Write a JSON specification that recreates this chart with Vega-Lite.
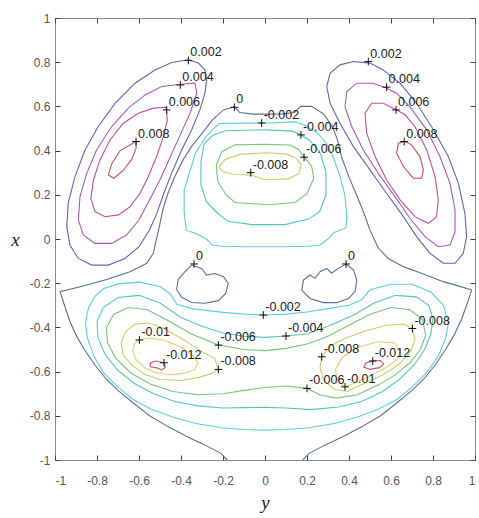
{
"$schema": "https://vega.github.io/schema/vega-lite/v6.json",
"width": 420, "height": 442,
"autosize": {"type": "none"},
"padding": {"left": 55, "top": 18, "right": 4, "bottom": 58},
"background": "white",
"config": {"view": {"stroke": "#8a8a8a", "strokeWidth": 1},
 "axis": {"grid": false, "domain": false, "tickColor": "#444", "tickWidth": 1, "tickSize": 5, "offset": -5, "labelFont": "Liberation Sans", "labelFontSize": 12, "labelColor": "#555", "titleFont": "Liberation Serif", "titleFontStyle": "italic", "titleFontWeight": "normal", "titleFontSize": 19, "titleColor": "#222"}},
"datasets": {
"curves": [
{"c":"a","l":"0.002","h":-0.365,"v":0.811,"o":0},{"c":"a","l":"0.002","h":-0.317,"v":0.796,"o":1},{"c":"a","l":"0.002","h":-0.286,"v":0.765,"o":2},{"c":"a","l":"0.002","h":-0.278,"v":0.72,"o":3},{"c":"a","l":"0.002","h":-0.286,"v":0.66,"o":4},{"c":"a","l":"0.002","h":-0.31,"v":0.584,"o":5},{"c":"a","l":"0.002","h":-0.349,"v":0.494,"o":6},{"c":"a","l":"0.002","h":-0.397,"v":0.403,"o":7},{"c":"a","l":"0.002","h":-0.445,"v":0.297,"o":8},{"c":"a","l":"0.002","h":-0.482,"v":0.207,"o":9},{"c":"a","l":"0.002","h":-0.515,"v":0.116,"o":10},{"c":"a","l":"0.002","h":-0.55,"v":0.041,"o":11},{"c":"a","l":"0.002","h":-0.6,"v":-0.035,"o":12},{"c":"a","l":"0.002","h":-0.667,"v":-0.088,"o":13},{"c":"a","l":"0.002","h":-0.746,"v":-0.118,"o":14},{"c":"a","l":"0.002","h":-0.825,"v":-0.118,"o":15},{"c":"a","l":"0.002","h":-0.889,"v":-0.088,"o":16},{"c":"a","l":"0.002","h":-0.929,"v":-0.027,"o":17},{"c":"a","l":"0.002","h":-0.944,"v":0.056,"o":18},{"c":"a","l":"0.002","h":-0.937,"v":0.162,"o":19},{"c":"a","l":"0.002","h":-0.905,"v":0.282,"o":20},{"c":"a","l":"0.002","h":-0.857,"v":0.403,"o":21},{"c":"a","l":"0.002","h":-0.794,"v":0.509,"o":22},{"c":"a","l":"0.002","h":-0.714,"v":0.614,"o":23},{"c":"a","l":"0.002","h":-0.619,"v":0.705,"o":24},{"c":"a","l":"0.002","h":-0.524,"v":0.765,"o":25},{"c":"a","l":"0.002","h":-0.444,"v":0.799,"o":26},{"c":"a","l":"0.002","h":-0.365,"v":0.811,"o":27},
{"c":"b","l":"0.004","h":-0.402,"v":0.7,"o":0},{"c":"b","l":"0.004","h":-0.333,"v":0.705,"o":1},{"c":"b","l":"0.004","h":-0.325,"v":0.66,"o":2},{"c":"b","l":"0.004","h":-0.357,"v":0.569,"o":3},{"c":"b","l":"0.004","h":-0.4,"v":0.479,"o":4},{"c":"b","l":"0.004","h":-0.45,"v":0.373,"o":5},{"c":"b","l":"0.004","h":-0.5,"v":0.268,"o":6},{"c":"b","l":"0.004","h":-0.55,"v":0.177,"o":7},{"c":"b","l":"0.004","h":-0.6,"v":0.086,"o":8},{"c":"b","l":"0.004","h":-0.66,"v":0.018,"o":9},{"c":"b","l":"0.004","h":-0.73,"v":-0.02,"o":10},{"c":"b","l":"0.004","h":-0.81,"v":-0.02,"o":11},{"c":"b","l":"0.004","h":-0.865,"v":0.018,"o":12},{"c":"b","l":"0.004","h":-0.889,"v":0.086,"o":13},{"c":"b","l":"0.004","h":-0.881,"v":0.192,"o":14},{"c":"b","l":"0.004","h":-0.849,"v":0.297,"o":15},{"c":"b","l":"0.004","h":-0.802,"v":0.403,"o":16},{"c":"b","l":"0.004","h":-0.73,"v":0.509,"o":17},{"c":"b","l":"0.004","h":-0.651,"v":0.592,"o":18},{"c":"b","l":"0.004","h":-0.571,"v":0.652,"o":19},{"c":"b","l":"0.004","h":-0.492,"v":0.69,"o":20},{"c":"b","l":"0.004","h":-0.402,"v":0.7,"o":21},
{"c":"c","l":"0.006","h":-0.471,"v":0.596,"o":0},{"c":"c","l":"0.006","h":-0.465,"v":0.539,"o":1},{"c":"c","l":"0.006","h":-0.484,"v":0.463,"o":2},{"c":"c","l":"0.006","h":-0.516,"v":0.373,"o":3},{"c":"c","l":"0.006","h":-0.556,"v":0.282,"o":4},{"c":"c","l":"0.006","h":-0.595,"v":0.207,"o":5},{"c":"c","l":"0.006","h":-0.643,"v":0.146,"o":6},{"c":"c","l":"0.006","h":-0.698,"v":0.109,"o":7},{"c":"c","l":"0.006","h":-0.762,"v":0.101,"o":8},{"c":"c","l":"0.006","h":-0.81,"v":0.124,"o":9},{"c":"c","l":"0.006","h":-0.829,"v":0.184,"o":10},{"c":"c","l":"0.006","h":-0.817,"v":0.267,"o":11},{"c":"c","l":"0.006","h":-0.786,"v":0.358,"o":12},{"c":"c","l":"0.006","h":-0.738,"v":0.448,"o":13},{"c":"c","l":"0.006","h":-0.675,"v":0.524,"o":14},{"c":"c","l":"0.006","h":-0.603,"v":0.569,"o":15},{"c":"c","l":"0.006","h":-0.532,"v":0.592,"o":16},{"c":"c","l":"0.006","h":-0.471,"v":0.596,"o":17},
{"c":"d","l":"0.008","h":-0.614,"v":0.441,"o":0},{"c":"d","l":"0.008","h":-0.69,"v":0.4,"o":1},{"c":"d","l":"0.008","h":-0.73,"v":0.34,"o":2},{"c":"d","l":"0.008","h":-0.746,"v":0.29,"o":3},{"c":"d","l":"0.008","h":-0.72,"v":0.275,"o":4},{"c":"d","l":"0.008","h":-0.675,"v":0.31,"o":5},{"c":"d","l":"0.008","h":-0.635,"v":0.36,"o":6},{"c":"d","l":"0.008","h":-0.614,"v":0.41,"o":7},{"c":"d","l":"0.008","h":-0.614,"v":0.441,"o":8},
{"c":"e","l":"0.002","h":0.5,"v":0.796,"o":0},{"c":"e","l":"0.002","h":0.421,"v":0.803,"o":1},{"c":"e","l":"0.002","h":0.357,"v":0.788,"o":2},{"c":"e","l":"0.002","h":0.31,"v":0.75,"o":3},{"c":"e","l":"0.002","h":0.294,"v":0.69,"o":4},{"c":"e","l":"0.002","h":0.31,"v":0.614,"o":5},{"c":"e","l":"0.002","h":0.357,"v":0.524,"o":6},{"c":"e","l":"0.002","h":0.421,"v":0.418,"o":7},{"c":"e","l":"0.002","h":0.5,"v":0.313,"o":8},{"c":"e","l":"0.002","h":0.579,"v":0.207,"o":9},{"c":"e","l":"0.002","h":0.659,"v":0.101,"o":10},{"c":"e","l":"0.002","h":0.722,"v":0.011,"o":11},{"c":"e","l":"0.002","h":0.786,"v":-0.065,"o":12},{"c":"e","l":"0.002","h":0.849,"v":-0.11,"o":13},{"c":"e","l":"0.002","h":0.905,"v":-0.11,"o":14},{"c":"e","l":"0.002","h":0.944,"v":-0.065,"o":15},{"c":"e","l":"0.002","h":0.96,"v":0.011,"o":16},{"c":"e","l":"0.002","h":0.952,"v":0.116,"o":17},{"c":"e","l":"0.002","h":0.921,"v":0.252,"o":18},{"c":"e","l":"0.002","h":0.873,"v":0.373,"o":19},{"c":"e","l":"0.002","h":0.802,"v":0.494,"o":20},{"c":"e","l":"0.002","h":0.722,"v":0.614,"o":21},{"c":"e","l":"0.002","h":0.643,"v":0.705,"o":22},{"c":"e","l":"0.002","h":0.563,"v":0.765,"o":23},{"c":"e","l":"0.002","h":0.5,"v":0.796,"o":24},
{"c":"f","l":"0.004","h":0.579,"v":0.682,"o":0},{"c":"f","l":"0.004","h":0.516,"v":0.705,"o":1},{"c":"f","l":"0.004","h":0.437,"v":0.705,"o":2},{"c":"f","l":"0.004","h":0.389,"v":0.667,"o":3},{"c":"f","l":"0.004","h":0.381,"v":0.599,"o":4},{"c":"f","l":"0.004","h":0.413,"v":0.509,"o":5},{"c":"f","l":"0.004","h":0.468,"v":0.403,"o":6},{"c":"f","l":"0.004","h":0.54,"v":0.297,"o":7},{"c":"f","l":"0.004","h":0.619,"v":0.192,"o":8},{"c":"f","l":"0.004","h":0.69,"v":0.094,"o":9},{"c":"f","l":"0.004","h":0.762,"v":0.011,"o":10},{"c":"f","l":"0.004","h":0.825,"v":-0.035,"o":11},{"c":"f","l":"0.004","h":0.881,"v":-0.027,"o":12},{"c":"f","l":"0.004","h":0.905,"v":0.033,"o":13},{"c":"f","l":"0.004","h":0.905,"v":0.131,"o":14},{"c":"f","l":"0.004","h":0.881,"v":0.252,"o":15},{"c":"f","l":"0.004","h":0.833,"v":0.373,"o":16},{"c":"f","l":"0.004","h":0.77,"v":0.494,"o":17},{"c":"f","l":"0.004","h":0.69,"v":0.599,"o":18},{"c":"f","l":"0.004","h":0.627,"v":0.66,"o":19},{"c":"f","l":"0.004","h":0.579,"v":0.682,"o":20},
{"c":"g","l":"0.006","h":0.627,"v":0.584,"o":0},{"c":"g","l":"0.006","h":0.563,"v":0.614,"o":1},{"c":"g","l":"0.006","h":0.508,"v":0.614,"o":2},{"c":"g","l":"0.006","h":0.476,"v":0.569,"o":3},{"c":"g","l":"0.006","h":0.484,"v":0.479,"o":4},{"c":"g","l":"0.006","h":0.524,"v":0.373,"o":5},{"c":"g","l":"0.006","h":0.579,"v":0.267,"o":6},{"c":"g","l":"0.006","h":0.643,"v":0.177,"o":7},{"c":"g","l":"0.006","h":0.714,"v":0.101,"o":8},{"c":"g","l":"0.006","h":0.778,"v":0.071,"o":9},{"c":"g","l":"0.006","h":0.817,"v":0.101,"o":10},{"c":"g","l":"0.006","h":0.825,"v":0.177,"o":11},{"c":"g","l":"0.006","h":0.81,"v":0.282,"o":12},{"c":"g","l":"0.006","h":0.77,"v":0.403,"o":13},{"c":"g","l":"0.006","h":0.714,"v":0.509,"o":14},{"c":"g","l":"0.006","h":0.667,"v":0.562,"o":15},{"c":"g","l":"0.006","h":0.627,"v":0.584,"o":16},
{"c":"h","l":"0.008","h":0.667,"v":0.441,"o":0},{"c":"h","l":"0.008","h":0.635,"v":0.433,"o":1},{"c":"h","l":"0.008","h":0.627,"v":0.388,"o":2},{"c":"h","l":"0.008","h":0.659,"v":0.328,"o":3},{"c":"h","l":"0.008","h":0.706,"v":0.275,"o":4},{"c":"h","l":"0.008","h":0.746,"v":0.275,"o":5},{"c":"h","l":"0.008","h":0.754,"v":0.313,"o":6},{"c":"h","l":"0.008","h":0.738,"v":0.373,"o":7},{"c":"h","l":"0.008","h":0.698,"v":0.426,"o":8},{"c":"h","l":"0.008","h":0.667,"v":0.441,"o":9},
{"c":"z","l":"0","h":-0.18,"v":-1.0,"o":0},{"c":"z","l":"0","h":-0.21,"v":-0.97,"o":1},{"c":"z","l":"0","h":-0.28,"v":-0.935,"o":2},{"c":"z","l":"0","h":-0.37,"v":-0.895,"o":3},{"c":"z","l":"0","h":-0.46,"v":-0.85,"o":4},{"c":"z","l":"0","h":-0.55,"v":-0.8,"o":5},{"c":"z","l":"0","h":-0.63,"v":-0.74,"o":6},{"c":"z","l":"0","h":-0.7,"v":-0.685,"o":7},{"c":"z","l":"0","h":-0.76,"v":-0.63,"o":8},{"c":"z","l":"0","h":-0.81,"v":-0.57,"o":9},{"c":"z","l":"0","h":-0.86,"v":-0.5,"o":10},{"c":"z","l":"0","h":-0.9,"v":-0.435,"o":11},{"c":"z","l":"0","h":-0.93,"v":-0.37,"o":12},{"c":"z","l":"0","h":-0.955,"v":-0.3,"o":13},{"c":"z","l":"0","h":-0.976,"v":-0.238,"o":14},{"c":"z","l":"0","h":-0.865,"v":-0.213,"o":15},{"c":"z","l":"0","h":-0.754,"v":-0.183,"o":16},{"c":"z","l":"0","h":-0.643,"v":-0.148,"o":17},{"c":"z","l":"0","h":-0.563,"v":-0.11,"o":18},{"c":"z","l":"0","h":-0.532,"v":-0.065,"o":19},{"c":"z","l":"0","h":-0.516,"v":0.003,"o":20},{"c":"z","l":"0","h":-0.503,"v":0.056,"o":21},{"c":"z","l":"0","h":-0.487,"v":0.131,"o":22},{"c":"z","l":"0","h":-0.462,"v":0.207,"o":23},{"c":"z","l":"0","h":-0.43,"v":0.282,"o":24},{"c":"z","l":"0","h":-0.39,"v":0.358,"o":25},{"c":"z","l":"0","h":-0.35,"v":0.418,"o":26},{"c":"z","l":"0","h":-0.3,"v":0.478,"o":27},{"c":"z","l":"0","h":-0.25,"v":0.539,"o":28},{"c":"z","l":"0","h":-0.198,"v":0.584,"o":29},{"c":"z","l":"0","h":-0.146,"v":0.598,"o":30},{"c":"z","l":"0","h":-0.12,"v":0.572,"o":31},{"c":"z","l":"0","h":-0.056,"v":0.565,"o":32},{"c":"z","l":"0","h":0.008,"v":0.565,"o":33},{"c":"z","l":"0","h":0.087,"v":0.566,"o":34},{"c":"z","l":"0","h":0.14,"v":0.572,"o":35},{"c":"z","l":"0","h":0.17,"v":0.6,"o":36},{"c":"z","l":"0","h":0.222,"v":0.6,"o":37},{"c":"z","l":"0","h":0.28,"v":0.565,"o":38},{"c":"z","l":"0","h":0.32,"v":0.51,"o":39},{"c":"z","l":"0","h":0.345,"v":0.45,"o":40},{"c":"z","l":"0","h":0.365,"v":0.37,"o":41},{"c":"z","l":"0","h":0.4,"v":0.28,"o":42},{"c":"z","l":"0","h":0.44,"v":0.19,"o":43},{"c":"z","l":"0","h":0.47,"v":0.12,"o":44},{"c":"z","l":"0","h":0.5,"v":0.04,"o":45},{"c":"z","l":"0","h":0.54,"v":-0.042,"o":46},{"c":"z","l":"0","h":0.587,"v":-0.088,"o":47},{"c":"z","l":"0","h":0.659,"v":-0.125,"o":48},{"c":"z","l":"0","h":0.754,"v":-0.158,"o":49},{"c":"z","l":"0","h":0.849,"v":-0.193,"o":50},{"c":"z","l":"0","h":0.944,"v":-0.219,"o":51},{"c":"z","l":"0","h":0.984,"v":-0.231,"o":52},{"c":"z","l":"0","h":0.96,"v":-0.3,"o":53},{"c":"z","l":"0","h":0.935,"v":-0.365,"o":54},{"c":"z","l":"0","h":0.9,"v":-0.435,"o":55},{"c":"z","l":"0","h":0.86,"v":-0.5,"o":56},{"c":"z","l":"0","h":0.81,"v":-0.57,"o":57},{"c":"z","l":"0","h":0.76,"v":-0.63,"o":58},{"c":"z","l":"0","h":0.7,"v":-0.685,"o":59},{"c":"z","l":"0","h":0.63,"v":-0.74,"o":60},{"c":"z","l":"0","h":0.55,"v":-0.8,"o":61},{"c":"z","l":"0","h":0.46,"v":-0.85,"o":62},{"c":"z","l":"0","h":0.37,"v":-0.895,"o":63},{"c":"z","l":"0","h":0.28,"v":-0.935,"o":64},{"c":"z","l":"0","h":0.21,"v":-0.97,"o":65},{"c":"z","l":"0","h":0.18,"v":-1.0,"o":66},
{"c":"i","l":"0","h":-0.349,"v":-0.118,"o":0},{"c":"i","l":"0","h":-0.302,"v":-0.133,"o":1},{"c":"i","l":"0","h":-0.278,"v":-0.163,"o":2},{"c":"i","l":"0","h":-0.238,"v":-0.156,"o":3},{"c":"i","l":"0","h":-0.198,"v":-0.171,"o":4},{"c":"i","l":"0","h":-0.175,"v":-0.201,"o":5},{"c":"i","l":"0","h":-0.187,"v":-0.246,"o":6},{"c":"i","l":"0","h":-0.222,"v":-0.279,"o":7},{"c":"i","l":"0","h":-0.286,"v":-0.291,"o":8},{"c":"i","l":"0","h":-0.349,"v":-0.287,"o":9},{"c":"i","l":"0","h":-0.397,"v":-0.264,"o":10},{"c":"i","l":"0","h":-0.421,"v":-0.228,"o":11},{"c":"i","l":"0","h":-0.413,"v":-0.183,"o":12},{"c":"i","l":"0","h":-0.381,"v":-0.148,"o":13},{"c":"i","l":"0","h":-0.349,"v":-0.118,"o":14},
{"c":"j","l":"0","h":0.386,"v":-0.113,"o":0},{"c":"j","l":"0","h":0.421,"v":-0.14,"o":1},{"c":"j","l":"0","h":0.437,"v":-0.186,"o":2},{"c":"j","l":"0","h":0.429,"v":-0.238,"o":3},{"c":"j","l":"0","h":0.398,"v":-0.269,"o":4},{"c":"j","l":"0","h":0.341,"v":-0.288,"o":5},{"c":"j","l":"0","h":0.278,"v":-0.288,"o":6},{"c":"j","l":"0","h":0.214,"v":-0.269,"o":7},{"c":"j","l":"0","h":0.175,"v":-0.231,"o":8},{"c":"j","l":"0","h":0.183,"v":-0.186,"o":9},{"c":"j","l":"0","h":0.214,"v":-0.163,"o":10},{"c":"j","l":"0","h":0.238,"v":-0.178,"o":11},{"c":"j","l":"0","h":0.262,"v":-0.148,"o":12},{"c":"j","l":"0","h":0.294,"v":-0.133,"o":13},{"c":"j","l":"0","h":0.317,"v":-0.155,"o":14},{"c":"j","l":"0","h":0.349,"v":-0.133,"o":15},{"c":"j","l":"0","h":0.386,"v":-0.113,"o":16},
{"c":"k","l":"-0.002","h":-0.22,"v":0.522,"o":0},{"c":"k","l":"-0.002","h":-0.1,"v":0.525,"o":1},{"c":"k","l":"-0.002","h":0.0,"v":0.524,"o":2},{"c":"k","l":"-0.002","h":0.14,"v":0.53,"o":3},{"c":"k","l":"-0.002","h":0.19,"v":0.515,"o":4},{"c":"k","l":"-0.002","h":0.25,"v":0.48,"o":5},{"c":"k","l":"-0.002","h":0.295,"v":0.43,"o":6},{"c":"k","l":"-0.002","h":0.325,"v":0.37,"o":7},{"c":"k","l":"-0.002","h":0.355,"v":0.29,"o":8},{"c":"k","l":"-0.002","h":0.38,"v":0.2,"o":9},{"c":"k","l":"-0.002","h":0.39,"v":0.1,"o":10},{"c":"k","l":"-0.002","h":0.385,"v":0.05,"o":11},{"c":"k","l":"-0.002","h":0.33,"v":0.03,"o":12},{"c":"k","l":"-0.002","h":0.3,"v":0.0,"o":13},{"c":"k","l":"-0.002","h":0.26,"v":-0.028,"o":14},{"c":"k","l":"-0.002","h":0.2,"v":-0.033,"o":15},{"c":"k","l":"-0.002","h":0.1,"v":-0.035,"o":16},{"c":"k","l":"-0.002","h":0.0,"v":-0.035,"o":17},{"c":"k","l":"-0.002","h":-0.1,"v":-0.035,"o":18},{"c":"k","l":"-0.002","h":-0.2,"v":-0.033,"o":19},{"c":"k","l":"-0.002","h":-0.25,"v":-0.028,"o":20},{"c":"k","l":"-0.002","h":-0.28,"v":0.0,"o":21},{"c":"k","l":"-0.002","h":-0.33,"v":0.025,"o":22},{"c":"k","l":"-0.002","h":-0.375,"v":0.04,"o":23},{"c":"k","l":"-0.002","h":-0.385,"v":0.12,"o":24},{"c":"k","l":"-0.002","h":-0.385,"v":0.22,"o":25},{"c":"k","l":"-0.002","h":-0.36,"v":0.3,"o":26},{"c":"k","l":"-0.002","h":-0.33,"v":0.39,"o":27},{"c":"k","l":"-0.002","h":-0.28,"v":0.465,"o":28},{"c":"k","l":"-0.002","h":-0.22,"v":0.522,"o":29},
{"c":"m","l":"-0.004","h":0.171,"v":0.471,"o":0},{"c":"m","l":"-0.004","h":0.13,"v":0.488,"o":1},{"c":"m","l":"-0.004","h":0.0,"v":0.494,"o":2},{"c":"m","l":"-0.004","h":-0.19,"v":0.49,"o":3},{"c":"m","l":"-0.004","h":-0.25,"v":0.468,"o":4},{"c":"m","l":"-0.004","h":-0.29,"v":0.43,"o":5},{"c":"m","l":"-0.004","h":-0.305,"v":0.35,"o":6},{"c":"m","l":"-0.004","h":-0.305,"v":0.245,"o":7},{"c":"m","l":"-0.004","h":-0.28,"v":0.17,"o":8},{"c":"m","l":"-0.004","h":-0.23,"v":0.12,"o":9},{"c":"m","l":"-0.004","h":-0.175,"v":0.08,"o":10},{"c":"m","l":"-0.004","h":-0.063,"v":0.065,"o":11},{"c":"m","l":"-0.004","h":0.095,"v":0.065,"o":12},{"c":"m","l":"-0.004","h":0.206,"v":0.09,"o":13},{"c":"m","l":"-0.004","h":0.26,"v":0.124,"o":14},{"c":"m","l":"-0.004","h":0.29,"v":0.2,"o":15},{"c":"m","l":"-0.004","h":0.29,"v":0.305,"o":16},{"c":"m","l":"-0.004","h":0.26,"v":0.396,"o":17},{"c":"m","l":"-0.004","h":0.21,"v":0.448,"o":18},{"c":"m","l":"-0.004","h":0.171,"v":0.471,"o":19},
{"c":"n","l":"-0.006","h":0.186,"v":0.37,"o":0},{"c":"n","l":"-0.006","h":0.16,"v":0.405,"o":1},{"c":"n","l":"-0.006","h":0.12,"v":0.425,"o":2},{"c":"n","l":"-0.006","h":0.0,"v":0.428,"o":3},{"c":"n","l":"-0.006","h":-0.143,"v":0.426,"o":4},{"c":"n","l":"-0.006","h":-0.206,"v":0.395,"o":5},{"c":"n","l":"-0.006","h":-0.232,"v":0.335,"o":6},{"c":"n","l":"-0.006","h":-0.225,"v":0.26,"o":7},{"c":"n","l":"-0.006","h":-0.185,"v":0.2,"o":8},{"c":"n","l":"-0.006","h":-0.143,"v":0.165,"o":9},{"c":"n","l":"-0.006","h":0.016,"v":0.155,"o":10},{"c":"n","l":"-0.006","h":0.143,"v":0.165,"o":11},{"c":"n","l":"-0.006","h":0.2,"v":0.205,"o":12},{"c":"n","l":"-0.006","h":0.232,"v":0.275,"o":13},{"c":"n","l":"-0.006","h":0.222,"v":0.33,"o":14},{"c":"n","l":"-0.006","h":0.186,"v":0.37,"o":15},
{"c":"p","l":"-0.008","h":-0.22,"v":0.325,"o":0},{"c":"p","l":"-0.008","h":-0.19,"v":0.36,"o":1},{"c":"p","l":"-0.008","h":-0.12,"v":0.383,"o":2},{"c":"p","l":"-0.008","h":0.0,"v":0.39,"o":3},{"c":"p","l":"-0.008","h":0.1,"v":0.385,"o":4},{"c":"p","l":"-0.008","h":0.15,"v":0.365,"o":5},{"c":"p","l":"-0.008","h":0.172,"v":0.335,"o":6},{"c":"p","l":"-0.008","h":0.16,"v":0.295,"o":7},{"c":"p","l":"-0.008","h":0.11,"v":0.272,"o":8},{"c":"p","l":"-0.008","h":0.0,"v":0.268,"o":9},{"c":"p","l":"-0.008","h":-0.068,"v":0.29,"o":10},{"c":"p","l":"-0.008","h":-0.15,"v":0.292,"o":11},{"c":"p","l":"-0.008","h":-0.2,"v":0.305,"o":12},{"c":"p","l":"-0.008","h":-0.22,"v":0.325,"o":13},
{"c":"q","l":"-0.002","h":0.0,"v":-0.344,"o":0},{"c":"q","l":"-0.002","h":0.1,"v":-0.34,"o":1},{"c":"q","l":"-0.002","h":0.2,"v":-0.33,"o":2},{"c":"q","l":"-0.002","h":0.3,"v":-0.315,"o":3},{"c":"q","l":"-0.002","h":0.4,"v":-0.3,"o":4},{"c":"q","l":"-0.002","h":0.46,"v":-0.275,"o":5},{"c":"q","l":"-0.002","h":0.5,"v":-0.23,"o":6},{"c":"q","l":"-0.002","h":0.6,"v":-0.205,"o":7},{"c":"q","l":"-0.002","h":0.7,"v":-0.205,"o":8},{"c":"q","l":"-0.002","h":0.79,"v":-0.24,"o":9},{"c":"q","l":"-0.002","h":0.85,"v":-0.3,"o":10},{"c":"q","l":"-0.002","h":0.873,"v":-0.38,"o":11},{"c":"q","l":"-0.002","h":0.86,"v":-0.45,"o":12},{"c":"q","l":"-0.002","h":0.825,"v":-0.53,"o":13},{"c":"q","l":"-0.002","h":0.77,"v":-0.605,"o":14},{"c":"q","l":"-0.002","h":0.7,"v":-0.67,"o":15},{"c":"q","l":"-0.002","h":0.63,"v":-0.725,"o":16},{"c":"q","l":"-0.002","h":0.54,"v":-0.77,"o":17},{"c":"q","l":"-0.002","h":0.44,"v":-0.805,"o":18},{"c":"q","l":"-0.002","h":0.33,"v":-0.835,"o":19},{"c":"q","l":"-0.002","h":0.2,"v":-0.855,"o":20},{"c":"q","l":"-0.002","h":0.1,"v":-0.862,"o":21},{"c":"q","l":"-0.002","h":0.0,"v":-0.865,"o":22},{"c":"q","l":"-0.002","h":-0.1,"v":-0.862,"o":23},{"c":"q","l":"-0.002","h":-0.2,"v":-0.855,"o":24},{"c":"q","l":"-0.002","h":-0.33,"v":-0.835,"o":25},{"c":"q","l":"-0.002","h":-0.44,"v":-0.805,"o":26},{"c":"q","l":"-0.002","h":-0.54,"v":-0.77,"o":27},{"c":"q","l":"-0.002","h":-0.63,"v":-0.725,"o":28},{"c":"q","l":"-0.002","h":-0.7,"v":-0.67,"o":29},{"c":"q","l":"-0.002","h":-0.77,"v":-0.605,"o":30},{"c":"q","l":"-0.002","h":-0.815,"v":-0.53,"o":31},{"c":"q","l":"-0.002","h":-0.845,"v":-0.45,"o":32},{"c":"q","l":"-0.002","h":-0.855,"v":-0.38,"o":33},{"c":"q","l":"-0.002","h":-0.84,"v":-0.31,"o":34},{"c":"q","l":"-0.002","h":-0.81,"v":-0.26,"o":35},{"c":"q","l":"-0.002","h":-0.77,"v":-0.225,"o":36},{"c":"q","l":"-0.002","h":-0.7,"v":-0.203,"o":37},{"c":"q","l":"-0.002","h":-0.6,"v":-0.195,"o":38},{"c":"q","l":"-0.002","h":-0.5,"v":-0.215,"o":39},{"c":"q","l":"-0.002","h":-0.45,"v":-0.25,"o":40},{"c":"q","l":"-0.002","h":-0.42,"v":-0.295,"o":41},{"c":"q","l":"-0.002","h":-0.35,"v":-0.315,"o":42},{"c":"q","l":"-0.002","h":-0.2,"v":-0.332,"o":43},{"c":"q","l":"-0.002","h":-0.1,"v":-0.34,"o":44},{"c":"q","l":"-0.002","h":0.0,"v":-0.344,"o":45},
{"c":"r","l":"-0.004","h":0.1,"v":-0.439,"o":0},{"c":"r","l":"-0.004","h":0.0,"v":-0.445,"o":1},{"c":"r","l":"-0.004","h":-0.1,"v":-0.44,"o":2},{"c":"r","l":"-0.004","h":-0.2,"v":-0.425,"o":3},{"c":"r","l":"-0.004","h":-0.3,"v":-0.395,"o":4},{"c":"r","l":"-0.004","h":-0.4,"v":-0.355,"o":5},{"c":"r","l":"-0.004","h":-0.5,"v":-0.29,"o":6},{"c":"r","l":"-0.004","h":-0.6,"v":-0.255,"o":7},{"c":"r","l":"-0.004","h":-0.7,"v":-0.265,"o":8},{"c":"r","l":"-0.004","h":-0.77,"v":-0.31,"o":9},{"c":"r","l":"-0.004","h":-0.8,"v":-0.375,"o":10},{"c":"r","l":"-0.004","h":-0.795,"v":-0.45,"o":11},{"c":"r","l":"-0.004","h":-0.76,"v":-0.525,"o":12},{"c":"r","l":"-0.004","h":-0.7,"v":-0.595,"o":13},{"c":"r","l":"-0.004","h":-0.62,"v":-0.655,"o":14},{"c":"r","l":"-0.004","h":-0.53,"v":-0.7,"o":15},{"c":"r","l":"-0.004","h":-0.43,"v":-0.735,"o":16},{"c":"r","l":"-0.004","h":-0.32,"v":-0.755,"o":17},{"c":"r","l":"-0.004","h":-0.2,"v":-0.765,"o":18},{"c":"r","l":"-0.004","h":-0.1,"v":-0.763,"o":19},{"c":"r","l":"-0.004","h":0.0,"v":-0.762,"o":20},{"c":"r","l":"-0.004","h":0.1,"v":-0.765,"o":21},{"c":"r","l":"-0.004","h":0.22,"v":-0.772,"o":22},{"c":"r","l":"-0.004","h":0.35,"v":-0.76,"o":23},{"c":"r","l":"-0.004","h":0.46,"v":-0.735,"o":24},{"c":"r","l":"-0.004","h":0.56,"v":-0.69,"o":25},{"c":"r","l":"-0.004","h":0.64,"v":-0.635,"o":26},{"c":"r","l":"-0.004","h":0.71,"v":-0.57,"o":27},{"c":"r","l":"-0.004","h":0.76,"v":-0.5,"o":28},{"c":"r","l":"-0.004","h":0.79,"v":-0.43,"o":29},{"c":"r","l":"-0.004","h":0.8,"v":-0.36,"o":30},{"c":"r","l":"-0.004","h":0.78,"v":-0.3,"o":31},{"c":"r","l":"-0.004","h":0.72,"v":-0.262,"o":32},{"c":"r","l":"-0.004","h":0.62,"v":-0.255,"o":33},{"c":"r","l":"-0.004","h":0.52,"v":-0.29,"o":34},{"c":"r","l":"-0.004","h":0.42,"v":-0.345,"o":35},{"c":"r","l":"-0.004","h":0.3,"v":-0.395,"o":36},{"c":"r","l":"-0.004","h":0.2,"v":-0.43,"o":37},{"c":"r","l":"-0.004","h":0.1,"v":-0.439,"o":38},
{"c":"s","l":"-0.006","h":-0.222,"v":-0.48,"o":0},{"c":"s","l":"-0.006","h":-0.1,"v":-0.5,"o":1},{"c":"s","l":"-0.006","h":0.0,"v":-0.505,"o":2},{"c":"s","l":"-0.006","h":0.1,"v":-0.495,"o":3},{"c":"s","l":"-0.006","h":0.2,"v":-0.475,"o":4},{"c":"s","l":"-0.006","h":0.3,"v":-0.44,"o":5},{"c":"s","l":"-0.006","h":0.4,"v":-0.39,"o":6},{"c":"s","l":"-0.006","h":0.5,"v":-0.34,"o":7},{"c":"s","l":"-0.006","h":0.6,"v":-0.31,"o":8},{"c":"s","l":"-0.006","h":0.69,"v":-0.32,"o":9},{"c":"s","l":"-0.006","h":0.75,"v":-0.365,"o":10},{"c":"s","l":"-0.006","h":0.765,"v":-0.435,"o":11},{"c":"s","l":"-0.006","h":0.74,"v":-0.5,"o":12},{"c":"s","l":"-0.006","h":0.69,"v":-0.56,"o":13},{"c":"s","l":"-0.006","h":0.62,"v":-0.615,"o":14},{"c":"s","l":"-0.006","h":0.54,"v":-0.66,"o":15},{"c":"s","l":"-0.006","h":0.44,"v":-0.705,"o":16},{"c":"s","l":"-0.006","h":0.34,"v":-0.72,"o":17},{"c":"s","l":"-0.006","h":0.26,"v":-0.705,"o":18},{"c":"s","l":"-0.006","h":0.2,"v":-0.676,"o":19},{"c":"s","l":"-0.006","h":0.1,"v":-0.665,"o":20},{"c":"s","l":"-0.006","h":0.0,"v":-0.672,"o":21},{"c":"s","l":"-0.006","h":-0.1,"v":-0.685,"o":22},{"c":"s","l":"-0.006","h":-0.2,"v":-0.7,"o":23},{"c":"s","l":"-0.006","h":-0.32,"v":-0.705,"o":24},{"c":"s","l":"-0.006","h":-0.44,"v":-0.69,"o":25},{"c":"s","l":"-0.006","h":-0.55,"v":-0.655,"o":26},{"c":"s","l":"-0.006","h":-0.64,"v":-0.605,"o":27},{"c":"s","l":"-0.006","h":-0.71,"v":-0.54,"o":28},{"c":"s","l":"-0.006","h":-0.75,"v":-0.47,"o":29},{"c":"s","l":"-0.006","h":-0.755,"v":-0.4,"o":30},{"c":"s","l":"-0.006","h":-0.72,"v":-0.34,"o":31},{"c":"s","l":"-0.006","h":-0.65,"v":-0.31,"o":32},{"c":"s","l":"-0.006","h":-0.56,"v":-0.32,"o":33},{"c":"s","l":"-0.006","h":-0.46,"v":-0.37,"o":34},{"c":"s","l":"-0.006","h":-0.35,"v":-0.43,"o":35},{"c":"s","l":"-0.006","h":-0.222,"v":-0.48,"o":36},
{"c":"t","l":"-0.008","h":-0.222,"v":-0.59,"o":0},{"c":"t","l":"-0.008","h":-0.24,"v":-0.54,"o":1},{"c":"t","l":"-0.008","h":-0.3,"v":-0.51,"o":2},{"c":"t","l":"-0.008","h":-0.38,"v":-0.46,"o":3},{"c":"t","l":"-0.008","h":-0.47,"v":-0.41,"o":4},{"c":"t","l":"-0.008","h":-0.55,"v":-0.38,"o":5},{"c":"t","l":"-0.008","h":-0.62,"v":-0.385,"o":6},{"c":"t","l":"-0.008","h":-0.665,"v":-0.42,"o":7},{"c":"t","l":"-0.008","h":-0.685,"v":-0.47,"o":8},{"c":"t","l":"-0.008","h":-0.675,"v":-0.525,"o":9},{"c":"t","l":"-0.008","h":-0.635,"v":-0.57,"o":10},{"c":"t","l":"-0.008","h":-0.575,"v":-0.612,"o":11},{"c":"t","l":"-0.008","h":-0.5,"v":-0.636,"o":12},{"c":"t","l":"-0.008","h":-0.4,"v":-0.64,"o":13},{"c":"t","l":"-0.008","h":-0.31,"v":-0.625,"o":14},{"c":"t","l":"-0.008","h":-0.25,"v":-0.607,"o":15},{"c":"t","l":"-0.008","h":-0.222,"v":-0.59,"o":16},
{"c":"u","l":"-0.01","h":-0.598,"v":-0.457,"o":0},{"c":"u","l":"-0.01","h":-0.55,"v":-0.448,"o":1},{"c":"u","l":"-0.01","h":-0.48,"v":-0.458,"o":2},{"c":"u","l":"-0.01","h":-0.4,"v":-0.49,"o":3},{"c":"u","l":"-0.01","h":-0.345,"v":-0.525,"o":4},{"c":"u","l":"-0.01","h":-0.32,"v":-0.56,"o":5},{"c":"u","l":"-0.01","h":-0.335,"v":-0.59,"o":6},{"c":"u","l":"-0.01","h":-0.38,"v":-0.607,"o":7},{"c":"u","l":"-0.01","h":-0.45,"v":-0.614,"o":8},{"c":"u","l":"-0.01","h":-0.52,"v":-0.605,"o":9},{"c":"u","l":"-0.01","h":-0.575,"v":-0.582,"o":10},{"c":"u","l":"-0.01","h":-0.615,"v":-0.545,"o":11},{"c":"u","l":"-0.01","h":-0.63,"v":-0.505,"o":12},{"c":"u","l":"-0.01","h":-0.62,"v":-0.472,"o":13},{"c":"u","l":"-0.01","h":-0.598,"v":-0.457,"o":14},
{"c":"w","l":"-0.012","h":-0.481,"v":-0.56,"o":0},{"c":"w","l":"-0.012","h":-0.52,"v":-0.552,"o":1},{"c":"w","l":"-0.012","h":-0.548,"v":-0.562,"o":2},{"c":"w","l":"-0.012","h":-0.545,"v":-0.578,"o":3},{"c":"w","l":"-0.012","h":-0.515,"v":-0.583,"o":4},{"c":"w","l":"-0.012","h":-0.492,"v":-0.592,"o":5},{"c":"w","l":"-0.012","h":-0.474,"v":-0.58,"o":6},{"c":"w","l":"-0.012","h":-0.481,"v":-0.56,"o":7},
{"c":"x","l":"-0.008","h":0.27,"v":-0.533,"o":0},{"c":"x","l":"-0.008","h":0.31,"v":-0.485,"o":1},{"c":"x","l":"-0.008","h":0.38,"v":-0.45,"o":2},{"c":"x","l":"-0.008","h":0.48,"v":-0.415,"o":3},{"c":"x","l":"-0.008","h":0.58,"v":-0.39,"o":4},{"c":"x","l":"-0.008","h":0.66,"v":-0.385,"o":5},{"c":"x","l":"-0.008","h":0.702,"v":-0.405,"o":6},{"c":"x","l":"-0.008","h":0.715,"v":-0.455,"o":7},{"c":"x","l":"-0.008","h":0.69,"v":-0.515,"o":8},{"c":"x","l":"-0.008","h":0.635,"v":-0.57,"o":9},{"c":"x","l":"-0.008","h":0.56,"v":-0.615,"o":10},{"c":"x","l":"-0.008","h":0.47,"v":-0.655,"o":11},{"c":"x","l":"-0.008","h":0.39,"v":-0.69,"o":12},{"c":"x","l":"-0.008","h":0.33,"v":-0.68,"o":13},{"c":"x","l":"-0.008","h":0.28,"v":-0.64,"o":14},{"c":"x","l":"-0.008","h":0.262,"v":-0.585,"o":15},{"c":"x","l":"-0.008","h":0.27,"v":-0.533,"o":16},
{"c":"y","l":"-0.01","h":0.381,"v":-0.669,"o":0},{"c":"y","l":"-0.01","h":0.345,"v":-0.64,"o":1},{"c":"y","l":"-0.01","h":0.335,"v":-0.59,"o":2},{"c":"y","l":"-0.01","h":0.37,"v":-0.535,"o":3},{"c":"y","l":"-0.01","h":0.44,"v":-0.49,"o":4},{"c":"y","l":"-0.01","h":0.54,"v":-0.465,"o":5},{"c":"y","l":"-0.01","h":0.615,"v":-0.47,"o":6},{"c":"y","l":"-0.01","h":0.645,"v":-0.505,"o":7},{"c":"y","l":"-0.01","h":0.63,"v":-0.545,"o":8},{"c":"y","l":"-0.01","h":0.57,"v":-0.585,"o":9},{"c":"y","l":"-0.01","h":0.49,"v":-0.625,"o":10},{"c":"y","l":"-0.01","h":0.43,"v":-0.65,"o":11},{"c":"y","l":"-0.01","h":0.381,"v":-0.669,"o":12},
{"c":"zz","l":"-0.012","h":0.513,"v":-0.552,"o":0},{"c":"zz","l":"-0.012","h":0.55,"v":-0.55,"o":1},{"c":"zz","l":"-0.012","h":0.565,"v":-0.565,"o":2},{"c":"zz","l":"-0.012","h":0.545,"v":-0.582,"o":3},{"c":"zz","l":"-0.012","h":0.5,"v":-0.59,"o":4},{"c":"zz","l":"-0.012","h":0.47,"v":-0.58,"o":5},{"c":"zz","l":"-0.012","h":0.48,"v":-0.562,"o":6},{"c":"zz","l":"-0.012","h":0.513,"v":-0.552,"o":7}
],
"labels": [
{"h":-0.365,"v":0.808,"t":"0.002"},{"h":-0.403,"v":0.697,"t":"0.004"},{"h":-0.468,"v":0.584,"t":"0.006"},{"h":-0.614,"v":0.441,"t":"0.008"},
{"h":0.492,"v":0.803,"t":"0.002"},{"h":0.579,"v":0.687,"t":"0.004"},{"h":0.624,"v":0.584,"t":"0.006"},{"h":0.663,"v":0.441,"t":"0.008"},
{"h":-0.146,"v":0.596,"t":"0"},{"h":-0.016,"v":0.525,"t":"-0.002"},{"h":0.171,"v":0.471,"t":"-0.004"},{"h":0.186,"v":0.37,"t":"-0.006"},{"h":-0.068,"v":0.3,"t":"-0.008"},
{"h":-0.338,"v":-0.113,"t":"0"},{"h":0.386,"v":-0.113,"t":"0"},
{"h":-0.008,"v":-0.344,"t":"-0.002"},{"h":0.1,"v":-0.439,"t":"-0.004"},{"h":-0.222,"v":-0.48,"t":"-0.006"},{"h":-0.222,"v":-0.59,"t":"-0.008"},{"h":-0.598,"v":-0.457,"t":"-0.01"},{"h":-0.481,"v":-0.56,"t":"-0.012"},
{"h":0.27,"v":-0.533,"t":"-0.008"},{"h":0.702,"v":-0.405,"t":"-0.008"},{"h":0.2,"v":-0.676,"t":"-0.006"},{"h":0.381,"v":-0.669,"t":"-0.01"},{"h":0.513,"v":-0.552,"t":"-0.012"}
]
},
"layer": [
{"data": {"name": "curves"},
 "mark": {"type": "line", "strokeWidth": 1.1, "clip": true},
 "encoding": {
  "x": {"field": "h", "type": "quantitative", "scale": {"domain": [-1, 1], "nice": false, "zero": false},
        "axis": {"orient": "bottom", "title": "y", "values": [-1,-0.8,-0.6,-0.4,-0.2,0,0.2,0.4,0.6,0.8,1], "labelExpr": "'' + datum.value", "labelPadding": 15, "titleX": 210, "titleY": 53, "titleBaseline": "alphabetic", "titleAlign": "center"}},
  "y": {"field": "v", "type": "quantitative", "scale": {"domain": [-1, 1], "nice": false, "zero": false},
        "axis": {"orient": "left", "title": "x", "values": [-1,-0.8,-0.6,-0.4,-0.2,0,0.2,0.4,0.6,0.8,1], "labelExpr": "'' + datum.value", "labelPadding": 5, "titleAngle": 0, "titleX": -45, "titleY": 227, "titleAlign": "center", "titleBaseline": "alphabetic"}},
  "detail": {"field": "c", "type": "nominal"},
  "order": {"field": "o", "type": "quantitative"},
  "color": {"field": "l", "type": "nominal", "legend": null,
            "scale": {"domain": ["0.008","0.006","0.004","0.002","0","-0.002","-0.004","-0.006","-0.008","-0.01","-0.012"],
                      "range": ["#cc5060","#c8508c","#a85cb8","#6464b4","#5f6f94","#5ccfdf","#55c8b5","#78c878","#bcd66a","#e6cc7a","#c85a64"]}}
 }},
{"data": {"name": "labels"},
 "mark": {"type": "point", "shape": "M-1,0L1,0M0,-1L0,1", "filled": false, "stroke": "#111", "strokeWidth": 1, "size": 60, "opacity": 1},
 "encoding": {
  "x": {"field": "h", "type": "quantitative", "axis": {"orient": "top", "labels": false, "title": null, "values": [-1,-0.8,-0.6,-0.4,-0.2,0,0.2,0.4,0.6,0.8,1]}},
  "y": {"field": "v", "type": "quantitative", "axis": {"orient": "right", "labels": false, "title": null, "values": [-1,-0.8,-0.6,-0.4,-0.2,0,0.2,0.4,0.6,0.8,1]}}
 }},
{"data": {"name": "labels"},
 "mark": {"type": "text", "align": "left", "baseline": "alphabetic", "dx": 2, "dy": -4, "font": "Liberation Sans", "fontSize": 12.5, "fill": "#222"},
 "encoding": {
  "x": {"field": "h", "type": "quantitative", "axis": null},
  "y": {"field": "v", "type": "quantitative", "axis": null},
  "text": {"field": "t"}
 }}
]
}
